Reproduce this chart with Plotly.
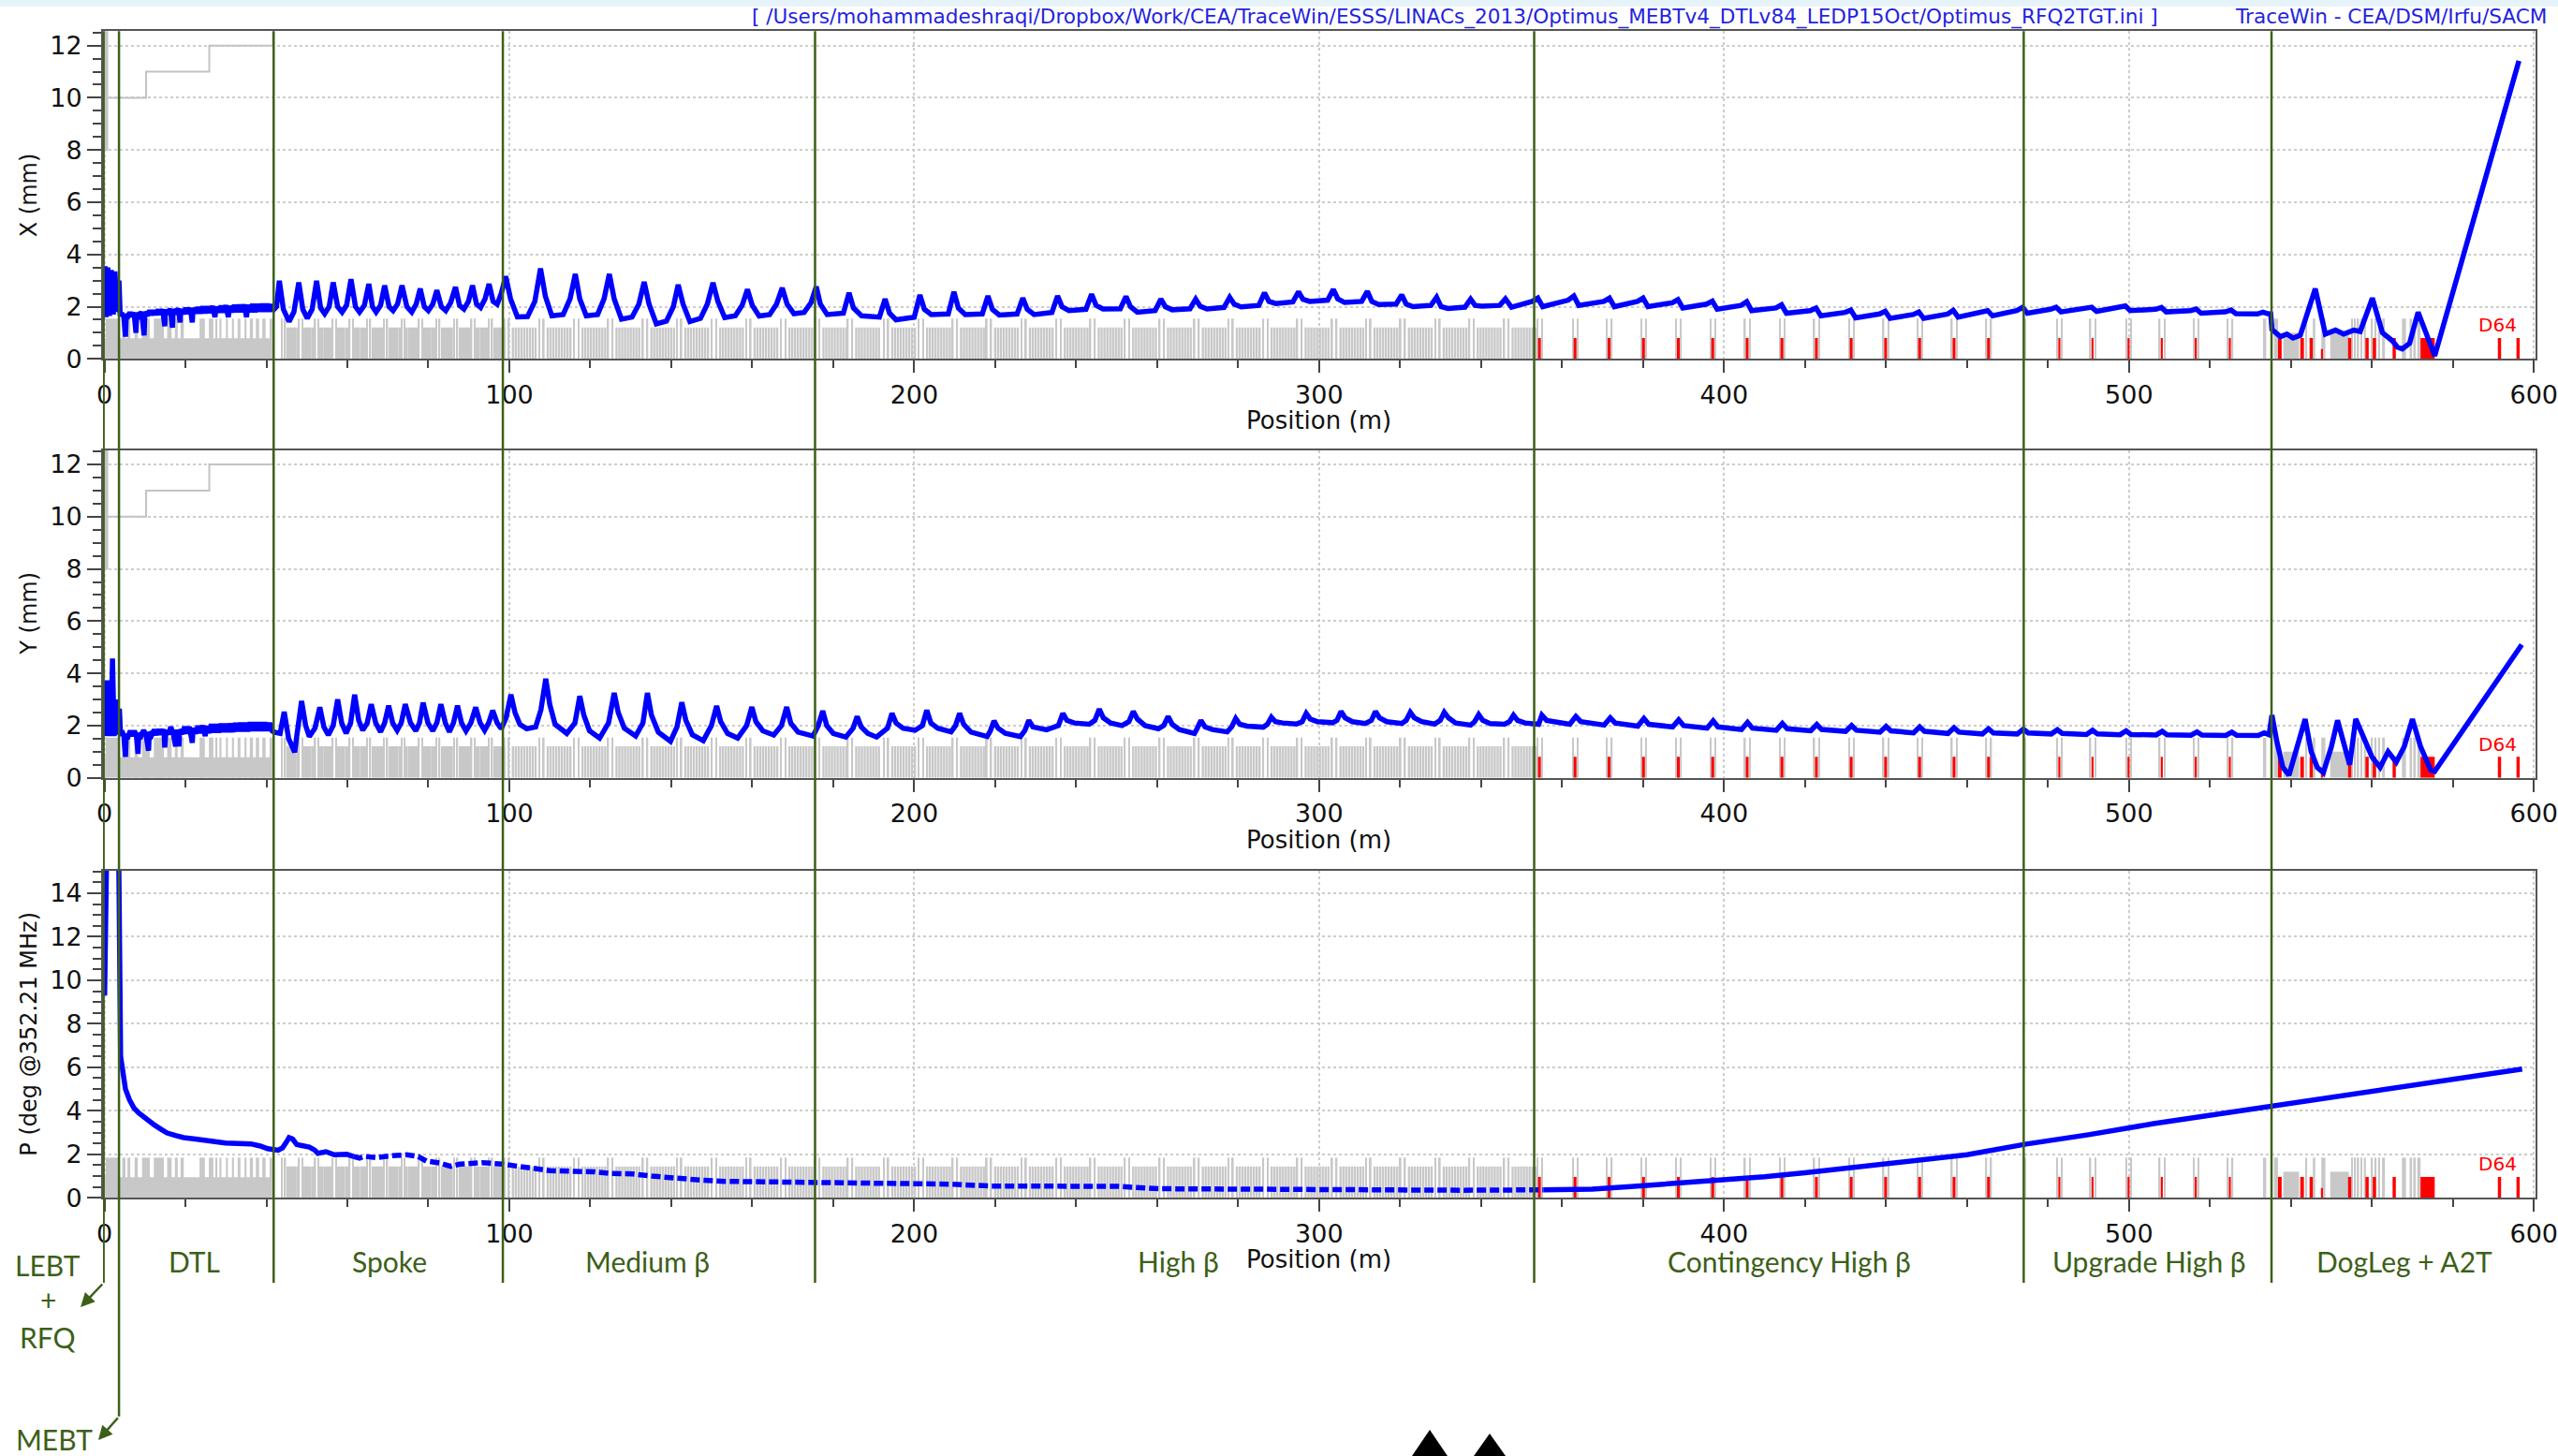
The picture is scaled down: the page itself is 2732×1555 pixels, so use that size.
import plotly.graph_objects as go

W, H = 2732, 1555

# ======================= DATA =======================
# Beam envelope X (mm) vs position (m)
X_ENV = [
 (0.0,1.6),(0.15,3.55),(0.45,1.6),(0.85,3.5),(1.25,1.65),(1.7,3.4),(2.2,1.7),(2.6,3.35),(3.1,1.8),(3.6,3.0),(3.9,1.65),
 (4.3,1.75),(4.8,1.6),(5.2,0.85),(5.4,1.7),(5.9,1.65),(6.3,1.78),(6.8,1.62),(7.3,1.78),(7.8,1.0),(8.0,1.75),(8.6,1.65),
 (9.2,1.8),(9.8,0.9),(10.0,1.8),(10.6,1.66),(11.2,1.85),(11.7,1.68),(12.2,1.85),(12.7,1.7),(13.3,1.88),(13.8,1.7),
 (14.4,1.9),(14.9,1.25),(15.1,1.88),(15.7,1.72),(16.3,1.92),(16.8,1.2),(17.0,1.9),(17.6,1.72),(18.2,1.93),(18.7,1.4),
 (18.9,1.9),(19.5,1.72),(20.1,1.95),(20.6,1.74),(21.2,1.95),(21.7,1.4),(21.9,1.95),(22.5,1.75),(23.1,1.97),(23.7,1.75),
 (24.3,2.0),(24.9,1.76),(25.5,2.0),(26.1,1.77),(26.7,2.02),(27.3,1.6),(27.6,2.0),(28.2,1.78),(28.8,2.03),(29.4,1.78),
 (30.0,2.05),(30.6,1.6),(30.9,2.03),(31.5,1.79),(32.1,2.06),(32.7,1.8),(33.3,2.07),(33.9,1.8),(34.5,2.08),(35.1,1.6),
 (35.4,2.07),(36.0,1.8),(36.6,2.1),(37.2,1.8),(37.8,2.1),(38.4,1.82),(39.0,2.1),(39.6,1.82),(40.2,2.1),(40.8,1.82),
 (41.4,2.08),(41.9,1.9),
 (42.5,2.0),(43.2,2.99),(44.2,1.9),(45.6,1.43),(46.8,1.8),(48.0,2.93),(49.0,1.9),(50.1,1.55),(51.3,1.9),(52.4,2.99),
 (53.4,1.95),(54.4,1.73),(55.5,2.0),(56.5,2.93),(57.6,2.0),(58.7,1.79),(59.8,2.05),(60.9,3.05),(62.0,2.0),(63.0,1.79),
 (64.2,2.05),(65.3,2.87),(66.2,2.0),(67.1,1.79),(68.2,2.05),(69.2,2.81),(70.3,2.0),(71.3,1.85),(72.4,2.1),(73.5,2.81),
 (74.7,2.0),(75.9,1.79),(77.0,2.1),(78.0,2.69),(79.0,2.0),(80.0,1.85),(81.1,2.1),(82.1,2.63),(83.2,2.0),(84.3,1.85),
 (85.5,2.15),(86.7,2.75),(87.7,2.05),(88.8,1.91),(89.9,2.2),(90.9,2.81),(91.9,2.1),(92.9,1.97),(94.0,2.3),(95.0,2.87),
 (96.0,2.2),(97.0,2.09),(98.0,2.5),(99.1,3.16),
 (100.3,2.3),(102.0,1.61),(104.5,1.62),(106.3,2.2),(107.7,3.46),(108.9,2.4),(110.5,1.65),(113.3,1.7),(115.0,2.3),
 (116.3,3.25),(117.4,2.3),(119.0,1.65),(121.8,1.7),(123.4,2.3),(124.7,3.25),(125.9,2.3),(127.7,1.52),(130.3,1.6),
 (132.0,2.1),(133.3,2.95),(134.5,2.1),(136.3,1.34),(138.8,1.45),(140.5,2.0),(141.7,2.84),(142.9,2.1),(144.6,1.43),
 (147.2,1.55),(148.9,2.1),(150.3,2.92),(151.5,2.2),(153.2,1.58),(155.8,1.65),(157.5,2.05),(158.8,2.66),(160.0,2.05),
 (161.7,1.64),(164.3,1.7),(166.0,2.1),(167.4,2.72),(168.6,2.1),(170.3,1.73),(172.8,1.78),(174.5,2.15),(175.8,2.77),
 (176.8,2.1),(178.5,1.70),(182.5,1.75),(183.9,2.53),(185.0,1.95),(187.0,1.65),(191.4,1.6),(192.8,2.29),(193.9,1.75),
 (195.5,1.50),(200.0,1.6),(201.4,2.45),(202.5,1.9),(204.2,1.70),(208.4,1.72),(209.8,2.57),(210.9,1.95),(212.6,1.70),
 (216.8,1.72),(218.2,2.41),(219.3,1.9),(221.0,1.68),(225.4,1.72),(226.8,2.33),(227.9,1.9),(229.6,1.70),(234.0,1.78),
 (235.4,2.41),(236.5,2.0),(238.2,1.85),(242.4,1.9),(243.8,2.48),(244.9,2.05),(246.6,1.91),(250.9,1.92),(252.3,2.39),
 (253.4,2.0),(255.1,1.79),(259.5,1.85),(260.9,2.29),(262.0,2.0),(263.7,1.88),(268.1,1.92),(269.5,2.29),(270.6,2.02),
 (272.3,1.91),(276.5,1.97),(277.9,2.36),(279.0,2.1),(280.7,1.99),(285.1,2.05),(286.5,2.53),(287.6,2.2),(289.3,2.12),
 (293.5,2.18),(294.9,2.57),(296.0,2.28),(297.7,2.2),(302.1,2.25),(303.5,2.66),(304.6,2.3),(306.3,2.16),(310.5,2.2),
 (311.9,2.59),(313.0,2.2),(314.7,2.08),(319.0,2.1),(320.4,2.45),(321.5,2.1),(323.2,2.0),(327.6,2.05),(329.0,2.36),
 (330.1,2.0),(331.8,1.93),(336.0,1.98),(337.4,2.29),(338.5,2.05),(340.2,2.02),(344.6,2.05),(346.0,2.3),(347.5,1.98),
 (352.6,2.2),(354.0,2.33),(355.2,2.0),(361.5,2.25),(362.9,2.41),(364.1,2.05),(370.3,2.2),(371.7,2.33),(372.9,2.0),
 (378.6,2.2),(380.0,2.33),(381.2,2.0),(387.2,2.15),(388.6,2.27),(389.8,1.95),(395.7,2.1),(397.1,2.21),(398.3,1.9),
 (404.2,2.05),(405.6,2.19),(406.8,1.85),(412.8,1.95),(414.2,2.07),(415.4,1.75),(421.3,1.85),(422.7,1.95),(423.9,1.65),
 (429.9,1.78),(431.3,1.87),(432.5,1.57),(438.4,1.72),(439.8,1.82),(441.0,1.55),(446.7,1.7),(448.1,1.8),(449.3,1.55),
 (455.2,1.72),(456.6,1.86),(457.8,1.6),(463.7,1.78),(465.1,1.85),(466.3,1.65),(472.3,1.85),(473.7,1.97),(474.9,1.75),
 (480.6,1.9),(482.0,1.98),(483.2,1.8),(489.4,1.92),(490.8,1.98),(492.0,1.82),(497.7,1.95),(499.1,2.03),(500.3,1.85),
 (506.6,1.9),(508.0,1.97),(509.2,1.8),(515.2,1.85),(516.6,1.91),(517.8,1.75),(523.8,1.8),(525.2,1.87),(526.4,1.73),
 (531.7,1.72),(533.1,1.79),(534.3,1.73),(535.0,1.72),
 (535.3,1.13),(537.4,0.85),(539.0,0.95),(540.5,0.8),(542.3,0.9),(543.5,1.5),(546.0,2.69),(548.5,0.95),(551.0,1.1),
 (553.0,0.95),(555.5,1.1),(557.1,1.05),(560.1,2.33),(562.6,1.0),(565.0,0.7),(566.3,0.45),(567.5,0.38),(569.3,0.6),
 (571.4,1.79),(575.5,0.12),(596.3,11.41),
]

# Beam envelope Y (mm) vs position (m)
Y_ENV = [
 (0.0,1.6),(0.3,3.73),(0.7,1.6),(1.2,3.73),(1.6,1.6),(2.0,4.57),(2.4,1.6),(2.9,3.0),(3.3,1.65),(3.7,2.65),(4.0,1.6),
 (4.3,1.8),(4.8,1.6),(5.2,0.8),(5.4,1.65),(5.9,1.6),(6.4,1.8),(6.9,1.6),(7.4,1.8),(7.9,1.62),(8.3,0.92),(8.5,1.7),
 (9.1,1.62),(9.7,1.82),(10.3,1.63),(10.9,1.04),(11.1,1.75),(11.7,1.64),(12.3,1.84),(12.9,1.65),(13.5,1.85),(14.1,1.66),
 (14.7,1.86),(14.9,1.16),(15.2,1.8),(15.8,1.67),(16.4,1.95),(17.0,1.68),(17.6,1.2),(17.8,1.85),(18.4,1.2),(18.6,1.85),
 (19.2,1.68),(19.8,1.95),(20.4,1.7),(21.0,1.95),(21.7,1.34),(21.9,1.9),(22.5,1.7),(23.1,1.98),(23.7,1.72),(24.3,2.0),
 (24.9,1.6),(25.2,1.98),(25.8,1.72),(26.4,2.05),(27.0,1.74),(27.6,2.05),(28.2,1.74),(28.8,2.07),(29.4,1.76),(30.0,2.07),
 (30.6,1.76),(31.2,2.08),(31.8,1.76),(32.4,2.1),(33.0,1.78),(33.6,2.1),(34.2,1.78),(34.8,2.1),(35.4,1.78),(36.0,2.12),
 (36.6,1.8),(37.2,2.12),(37.8,1.8),(38.4,2.12),(39.0,1.8),(39.6,2.12),(40.2,1.8),(40.8,2.1),(41.4,1.8),(41.9,1.75),
 (43.4,1.7),(44.4,2.53),(45.5,1.5),(47.0,0.98),(47.5,1.6),(48.7,2.94),(49.7,2.0),(50.6,1.58),(52.0,1.9),(53.2,2.70),
 (54.2,1.95),(55.3,1.64),(56.5,2.0),(57.6,3.0),(58.6,2.1),(59.7,1.70),(60.8,2.1),(61.8,3.18),(62.8,2.2),(63.8,1.82),
 (64.9,2.1),(65.9,2.82),(67.0,2.1),(68.2,1.76),(69.2,2.1),(70.2,2.76),(71.2,2.1),(72.3,1.82),(73.3,2.1),(74.3,2.82),
 (75.6,2.1),(76.9,1.80),(77.8,2.1),(78.7,2.88),(79.9,2.1),(81.1,1.80),(82.1,2.1),(83.1,2.82),(84.2,2.1),(85.2,1.76),
 (86.2,2.1),(87.2,2.76),(88.2,2.1),(89.3,1.80),(90.5,2.1),(91.7,2.70),(92.8,2.1),(93.9,1.82),(94.9,2.1),(95.9,2.58),
 (97.0,2.1),(98.0,1.88),(99.2,2.3),(100.4,3.19),
 (101.4,2.5),(102.6,2.05),(104.3,1.88),(106.5,1.95),(107.8,2.6),(109.0,3.79),(110.0,2.8),(111.3,2.05),(114.2,1.70),
 (116.2,2.1),(117.4,3.13),(118.4,2.4),(119.8,1.8),(122.3,1.52),(124.5,2.1),(125.9,3.25),(126.9,2.5),(128.4,1.9),
 (131.2,1.60),(133.0,2.1),(134.1,3.25),(135.1,2.4),(136.8,1.75),(139.8,1.40),(141.4,1.95),(142.6,2.89),(143.6,2.2),
 (145.2,1.65),(147.9,1.42),(149.9,2.0),(151.2,2.75),(152.2,2.15),(153.9,1.7),(156.4,1.52),(158.6,2.0),(159.9,2.71),
 (160.9,2.15),(162.6,1.8),(165.3,1.64),(167.2,2.0),(168.5,2.71),(169.5,2.1),(171.3,1.75),(175.0,1.60),(176.3,2.0),
 (177.4,2.56),(178.4,2.0),(180.0,1.7),(183.1,1.56),(184.9,1.9),(185.9,2.35),(186.9,1.95),(188.5,1.7),(190.7,1.56),
 (193.4,1.9),(194.5,2.47),(195.5,2.1),(197.2,1.9),(200.2,1.82),(202.0,2.0),(203.1,2.59),(204.1,2.1),(205.8,1.9),
 (209.1,1.76),(210.2,2.0),(211.2,2.47),(212.2,2.05),(214.0,1.75),(218.0,1.58),(218.8,1.8),(219.7,2.18),(220.7,1.9),
 (222.5,1.7),(226.2,1.58),(227.3,1.8),(228.3,2.20),(229.3,1.95),(231.0,1.88),(232.7,1.84),(235.6,2.0),(236.7,2.47),
 (237.7,2.2),(239.5,2.1),(243.2,2.05),(244.6,2.2),(245.7,2.63),(246.7,2.3),(248.5,2.1),(251.3,2.0),(253.0,2.15),
 (254.1,2.54),(255.1,2.25),(257.0,2.0),(260.3,1.88),(261.6,2.0),(262.7,2.35),(263.7,2.05),(265.5,1.85),(269.2,1.70),
 (269.9,1.9),(270.8,2.20),(271.8,1.95),(273.6,1.85),(277.3,1.76),(278.4,1.95),(279.4,2.27),(280.4,2.05),(282.2,1.98),
 (286.2,1.94),(287.2,2.05),(288.2,2.32),(289.2,2.15),(291.0,2.1),(294.4,2.06),(295.8,2.15),(296.8,2.47),(297.8,2.25),
 (299.6,2.15),(303.3,2.11),(304.4,2.2),(305.4,2.54),(306.4,2.3),(308.2,2.15),(311.4,2.08),(312.9,2.2),(313.9,2.54),
 (314.9,2.3),(316.7,2.15),(320.4,2.08),(321.5,2.2),(322.5,2.51),(323.5,2.3),(325.3,2.15),(328.5,2.06),(329.9,2.2),
 (330.9,2.51),(331.9,2.3),(333.7,2.1),(337.4,2.02),(338.4,2.15),(339.4,2.42),(340.4,2.2),(342.2,2.08),(345.8,2.05),
 (347.0,2.15),(348.0,2.4),(349.0,2.2),(350.8,2.1),(354.2,2.05),
 (355.0,2.4),(356.2,2.2),(361.9,2.05),(363.4,2.35),(364.6,2.15),(370.4,2.02),(371.9,2.3),(373.1,2.1),(378.7,1.98),
 (380.2,2.27),(381.4,2.05),(387.3,1.95),(388.8,2.22),(390.0,2.0),(395.8,1.9),(397.3,2.18),(398.5,1.95),(404.3,1.85),
 (405.8,2.12),(407.0,1.9),(412.9,1.82),(414.4,2.08),(415.6,1.88),(421.4,1.8),(422.9,2.04),(424.1,1.85),(430.0,1.78),
 (431.5,2.0),(432.7,1.82),(438.5,1.75),(440.0,1.97),(441.2,1.8),(446.8,1.72),(448.3,1.95),(449.5,1.78),(455.3,1.7),
 (456.8,1.92),(458.0,1.75),(463.8,1.68),(465.3,1.88),(466.5,1.72),(472.4,1.68),(473.9,1.86),(475.1,1.72),(480.8,1.68),
 (482.3,1.84),(483.5,1.7),(489.5,1.66),(491.0,1.82),(492.2,1.68),(497.8,1.65),(499.3,1.8),(500.5,1.66),(506.7,1.64),
 (508.2,1.78),(509.4,1.65),(515.3,1.63),(516.8,1.76),(518.0,1.64),(523.9,1.62),(525.4,1.75),(526.6,1.63),(531.9,1.62),
 (533.4,1.72),(534.6,1.65),(535.3,2.4),
 (536.5,1.4),(538.0,0.4),(539.5,0.1),(541.5,1.2),(543.5,2.25),(545.0,1.0),(546.5,0.4),(548.0,0.2),(550.0,1.2),
 (551.5,2.2),(553.0,1.3),(554.5,0.5),(556.0,2.25),(558.0,1.5),(560.0,0.8),(562.0,0.4),(564.0,1.0),(566.0,0.6),
 (568.0,1.2),(570.0,2.25),(572.0,1.2),(574.5,0.3),(575.5,0.25),(597.0,5.1),
]

# Phase spread P (deg @352.21 MHz) vs position (m)
P_ENV = [
 (0.05,9.3),(0.3,14.0),(0.6,16.5),(3.5,16.5),(3.75,12.2),(3.85,8.0),(4.0,6.5),(4.4,6.0),(5.2,5.0),(6.2,4.5),
 (7.3,4.13),(8.5,3.9),(9.8,3.70),(11.0,3.5),(12.4,3.34),(14.0,3.15),(15.5,2.98),(17.5,2.87),(19.6,2.77),(22.5,2.7),
 (25.8,2.62),(28.0,2.55),(29.9,2.52),(33.0,2.5),(36.2,2.48),(38.5,2.38),(40.3,2.26),(42.9,2.19),(44.0,2.3),(44.9,2.55),
 (45.6,2.77),(46.5,2.7),(47.5,2.45),(48.5,2.41),(50.6,2.33),(51.9,2.2),(52.7,2.05),(54.7,2.12),(56.8,1.98),(59.9,2.0),
 (61.5,1.9),(63.0,1.83),(64.2,1.91),(67.1,1.85),(70.0,1.92),(72.5,1.95),(74.6,1.98),(77.5,1.9),(79.5,1.69),(82.9,1.6),
 (85.5,1.45),(87.8,1.55),(91.9,1.57),(93.2,1.62),(98.4,1.55),(102.0,1.45),(105.6,1.33),(110.0,1.25),(115.9,1.22),
 (120.8,1.2),(125.0,1.12),(130.4,1.1),(135.2,1.0),(140.7,0.9),(147.0,0.82),(153.1,0.76),(160.0,0.74),(167.5,0.73),
 (175.8,0.73),(182.0,0.68),(188.2,0.64),(200.0,0.63),(208.8,0.63),(219.1,0.54),(235.0,0.54),(250.1,0.53),(260.4,0.42),
 (285.0,0.40),(312.0,0.37),(314.1,0.34),(335.0,0.35),(355.4,0.37),(367.4,0.40),(377.0,0.52),(385.0,0.62),(400.0,0.82),
 (410.0,0.97),(420.0,1.15),(430.0,1.35),(440.0,1.55),(450.0,1.77),(460.0,1.98),(474.6,2.47),(490.0,2.9),(506.1,3.41),
 (520.0,3.8),(535.3,4.2),(550.0,4.6),(565.0,5.05),(580.0,5.45),(597.1,5.92),
]

# Aperture step (mm), drawn light grey in the X and Y panels
APERTURE = [(0.3,13.0),(0.3,8.0),(0.7,8.0),(0.7,13.0),(None,None),(0.7,10.0),(10.3,10.0),(10.3,11.0),
            (25.9,11.0),(25.9,12.0),(41.6,12.0),(41.6,13.0)]

# Section boundaries (m) and labels
SECTION_BOUNDS = [-0.2, 3.6, 41.8, 98.4, 175.5, 353.1, 474.0, 535.2]
SECTION_NAMES = ["DTL", "Spoke", "Medium β", "High β", "Contingency High β", "Upgrade High β", "DogLeg + A2T"]
SECTION_LABEL_AT = [22.2, 70.4, 134.2, 265.2, 416.1, 505.1, 568.0]

# ---- lattice elements: (start m, length m, kind) ----
MEBT_ELEMS = [(0.0, 0.3, "dtl"), (0.3, 3.3, "quad")]
DTL_BLOCK = [(3.6, 38.2, "dtl")]
DTL_QUADS = [(4.4,0.8),(5.7,0.7),(7.45,0.8),(9.3,1.9),(12.2,2.5),(15.5,1.1),(17.4,0.7),(18.8,0.8),(23.5,1.3),
             (25.8,1.1),(27.4,0.5),(28.4,0.5),(30.0,0.5),(31.5,0.5),(32.9,0.7),(34.6,0.5),(35.9,0.8),(37.4,0.8),
             (39.0,0.8),(40.8,0.7)]
SPOKE_CELLS = [44.0, 48.2, 52.2, 56.5, 60.7, 65.0, 69.2, 73.5, 77.8, 82.1, 86.5, 90.8, 95.1]
SPOKE_CELL_LAYOUT = [(-0.3,0.35,"quad"),(0.5,0.35,"quad"),(1.05,0.42,"cav"),(1.55,0.42,"cav"),(2.05,0.42,"cav"),
                     (2.55,0.42,"cav"),(3.05,0.42,"cav"),(3.55,0.42,"cav")]
ELLIPTIC_CELLS = [99.1,107.7,116.3,124.7,133.3,141.7,150.3,158.8,167.4,
                  175.8,183.9,192.8,201.4,209.8,218.2,226.8,235.4,243.8,252.3,260.9,269.5,277.9,286.5,294.9,
                  303.5,311.9,320.4,329.0,337.4,346.0]
ELLIPTIC_CELL_LAYOUT = [(-0.5,0.4,"quad"),(0.6,0.4,"quad"),(1.5,0.55,"cav"),(2.2,0.55,"cav"),(2.9,0.55,"cav"),
                        (3.6,0.55,"cav"),(4.3,0.55,"cav"),(5.0,0.55,"cav"),(5.7,0.55,"cav"),(6.4,0.55,"cav"),
                        (7.1,0.55,"cav")]
CONTINGENCY_CELLS = [354.4,363.2,371.6,380.1,388.7,397.2,405.7,414.3,422.8,431.4,439.9,448.3,456.8,465.3]
CONTINGENCY_CELL_LAYOUT = [(-0.7,0.35,"quad"),(0.5,0.35,"quad"),(-0.35,0.7,"red")]
UPGRADE_CELLS = [482.8,491.0,499.9,508.1,516.5,524.9]
UPGRADE_CELL_LAYOUT = [(-0.7,0.35,"quad"),(0.5,0.35,"quad"),(-0.25,0.5,"red")]
UPGRADE_EDGE_QUADS = [(474.1,0.5,"quad"),(533.1,0.8,"quad")]
DOGLEG_ELEMS = [(535.8,1.0,"quad"),(538.1,3.9,"dip"),(543.5,0.5,"quad"),(545.4,0.6,"quad"),(547.5,1.0,"quad"),
                (549.7,4.6,"dip"),(554.9,0.4,"quad"),(555.6,0.4,"quad"),(556.4,0.4,"quad"),(557.2,0.4,"quad"),
                (558.0,0.5,"quad"),(559.7,0.5,"quad"),(560.6,0.5,"quad"),(561.5,0.5,"quad"),(562.5,0.7,"quad"),
                (567.4,1.0,"quad"),(569.3,0.6,"quad"),(570.2,0.6,"quad"),(571.2,0.8,"quad"),
                (536.8,0.9,"red"),(542.3,0.9,"red"),(544.6,0.8,"red"),(547.4,0.5,"red_s"),(554.1,0.8,"red"),
                (558.4,0.8,"red"),(560.2,0.8,"red"),(565.1,0.8,"red"),(572.0,3.5,"red"),(591.1,0.8,"red"),
                (595.7,0.8,"red")]

# ======================= STYLE / GEOMETRY =======================
PANELS = [  # (top px, bottom px, y max, y title)
    (33.3, 383.3, 12.55, "X (mm)"),
    (480.7, 830.7, 12.55, "Y (mm)"),
    (930.0, 1279.3, 15.03, "P (deg @352.21 MHz)"),
]
X_LEFT_PX, X_RIGHT_PX = 110, 2708
X_RANGE = [-0.35, 600.4]
KIND_FRAC = {"quad": 0.123, "cav": 0.096, "dtl": 0.063, "dip": 0.08, "red": 0.064, "red_s": 0.03}
GREY = "rgb(200,200,200)"
RED = "rgb(255,0,0)"
BLUE = "rgb(0,0,255)"
GREEN = "#3c6018"
TICK_FONT = dict(family="DejaVu Sans", size=27, color="#111111")
LABEL_FONT = dict(family="DejaVu Sans", size=26, color="#111111")
SECTION_FONT = dict(family="Lato", size=30, color=GREEN)


def py(p):
    return 1 - p / H


def pxp(p):
    return p / W


# assemble lattice
elements = list(MEBT_ELEMS) + list(DTL_BLOCK) + [(s, l, "quad") for s, l in DTL_QUADS]
for q in SPOKE_CELLS:
    elements += [(q + o, l, k) for o, l, k in SPOKE_CELL_LAYOUT]
for q in ELLIPTIC_CELLS:
    elements += [(q + o, l, k) for o, l, k in ELLIPTIC_CELL_LAYOUT]
for q in CONTINGENCY_CELLS:
    elements += [(q + o, l, k) for o, l, k in CONTINGENCY_CELL_LAYOUT]
for q in UPGRADE_CELLS:
    elements += [(q + o, l, k) for o, l, k in UPGRADE_CELL_LAYOUT]
elements += UPGRADE_EDGE_QUADS + DOGLEG_ELEMS

fig = go.Figure()


def unzip(pairs):
    return [a for a, b in pairs], [b for a, b in pairs]


env_sets = [X_ENV, Y_ENV, P_ENV]
LINE_W = 5.5

for i, (top, bot, ymax, title) in enumerate(PANELS):
    xa = "x" if i == 0 else f"x{i+1}"
    ya = "y" if i == 0 else f"y{i+1}"
    grey = [e for e in elements if not e[2].startswith("red")]
    reds = [e for e in elements if e[2].startswith("red")]
    for group, col in ((grey, GREY), (reds, RED)):
        fig.add_trace(go.Bar(
            x=[s + l / 2 for s, l, k in group], width=[l for s, l, k in group],
            y=[KIND_FRAC[k] * ymax for s, l, k in group], base=0,
            marker=dict(color=col, line=dict(width=0)), xaxis=xa, yaxis=ya,
            showlegend=False, hoverinfo="skip"))
    if i < 2:
        ax_, ay_ = unzip(APERTURE)
        fig.add_trace(go.Scatter(x=ax_, y=ay_, mode="lines", line=dict(color="rgb(195,195,195)", width=2),
                                 xaxis=xa, yaxis=ya, showlegend=False, hoverinfo="skip", connectgaps=False))
    xs, ys = unzip(env_sets[i])
    if i < 2:
        fig.add_trace(go.Scatter(x=xs, y=ys, mode="lines", line=dict(color=BLUE, width=LINE_W),
                                 xaxis=xa, yaxis=ya, showlegend=False, hoverinfo="skip"))
    else:
        segs = [(lambda v: v <= 62, "solid"), (lambda v: 61 <= v <= 356, "10px,4px"), (lambda v: v >= 355, "solid")]
        for cond, dash in segs:
            idx = [j for j, v in enumerate(xs) if cond(v)]
            fig.add_trace(go.Scatter(x=[xs[j] for j in idx], y=[ys[j] for j in idx], mode="lines",
                                     line=dict(color=BLUE, width=LINE_W, dash=dash),
                                     xaxis=xa, yaxis=ya, showlegend=False, hoverinfo="skip"))

layout = dict(template="none", width=W, height=H, margin=dict(l=0, r=0, t=0, b=0, pad=0, autoexpand=False),
              paper_bgcolor="white", plot_bgcolor="white", barmode="overlay", showlegend=False)

annotations = []
shapes = []
for i, (top, bot, ymax, title) in enumerate(PANELS):
    xk = "xaxis" if i == 0 else f"xaxis{i+1}"
    yk = "yaxis" if i == 0 else f"yaxis{i+1}"
    ya = "y" if i == 0 else f"y{i+1}"
    xa = "x" if i == 0 else f"x{i+1}"
    layout[xk] = dict(domain=[pxp(X_LEFT_PX), pxp(X_RIGHT_PX)], range=X_RANGE, anchor=ya, automargin=False,
                      ticklabeloverflow="allow",
                      tickvals=[0, 100, 200, 300, 400, 500, 600], ticks="outside", ticklen=13, tickwidth=2,
                      tickcolor="#444", tickfont=TICK_FONT,
                      minor=dict(dtick=20, tick0=0, ticks="outside", ticklen=8, tickwidth=1.5, tickcolor="#444",
                                 showgrid=False),
                      showgrid=True, gridcolor="rgb(205,205,205)", griddash="dot", gridwidth=1.5,
                      showline=True, mirror=True, linecolor="#555", linewidth=2, zeroline=False)
    layout[yk] = dict(domain=[py(bot), py(top)], range=[0, ymax], anchor=xa, automargin=False,
                      ticklabeloverflow="allow",
                      tickvals=list(range(0, int(ymax) + 1, 2)), ticks="outside", ticklen=15, tickwidth=2,
                      tickcolor="#444", tickfont=TICK_FONT,
                      minor=dict(dtick=0.5, tick0=0, ticks="outside", ticklen=9, tickwidth=1.5, tickcolor="#444",
                                 showgrid=False),
                      showgrid=True, gridcolor="rgb(205,205,205)", griddash="dot", gridwidth=1.5,
                      showline=True, mirror=True, linecolor="#555", linewidth=2, zeroline=False)
    annotations.append(dict(text=title, x=pxp(31), y=py((top + bot) / 2), xref="paper", yref="paper",
                            textangle=-90, showarrow=False, xanchor="center", yanchor="middle",
                            font=dict(family="DejaVu Sans", size=24, color="#111111")))
    annotations.append(dict(text="Position (m)", x=300, y=py(bot + 66), xref="x", yref="paper",
                            showarrow=False, xanchor="center", yanchor="middle", font=LABEL_FONT))
    annotations.append(dict(text="D64", x=591.1, y=py(bot - 36), xref="x", yref="paper",
                            showarrow=False, xanchor="center", yanchor="middle",
                            font=dict(family="DejaVu Sans", size=20, color=RED)))

# section boundary lines
for j, b in enumerate(SECTION_BOUNDS):
    bottom = 1512.7 if j == 1 else 1370
    shapes.append(dict(type="line", xref="x", yref="paper", x0=b, x1=b, y0=py(33.3), y1=py(bottom),
                       line=dict(color=GREEN, width=2.5), layer="above"))

for name, at in zip(SECTION_NAMES, SECTION_LABEL_AT):
    annotations.append(dict(text=name, x=at, y=py(1347), xref="x", yref="paper", showarrow=False,
                            xanchor="center", yanchor="middle", font=SECTION_FONT))

for txt, xx, yy in (("LEBT", 51, 1351), ("+", 51, 1388), ("RFQ", 51, 1428), ("MEBT", 58, 1537)):
    annotations.append(dict(text=txt, x=pxp(xx), y=py(yy), xref="paper", yref="paper",
                            showarrow=False, xanchor="center", yanchor="middle", font=SECTION_FONT))

# arrows from the LEBT/MEBT boundary lines to their labels
for head, tail in (((86, 1396), (110.7, 1370)), ((105, 1538), (127.2, 1512.7))):
    annotations.append(dict(text="", x=pxp(head[0]), y=py(head[1]), xref="paper", yref="paper",
                            ax=tail[0] - head[0], ay=tail[1] - head[1], axref="pixel", ayref="pixel",
                            showarrow=True, arrowhead=2, arrowsize=1.2, arrowwidth=2.5, arrowcolor=GREEN,
                            standoff=0, startstandoff=0))

# header
HEADER_FONT = dict(family="DejaVu Sans", size=21.6, color="#2323e0")
annotations.append(dict(text="[ /Users/mohammadeshraqi/Dropbox/Work/CEA/TraceWin/ESSS/LINACs_2013/Optimus_MEBTv4_DTLv84_LEDP15Oct/Optimus_RFQ2TGT.ini ]",
                        x=pxp(801), y=py(18), xref="paper", yref="paper", showarrow=False,
                        xanchor="left", yanchor="middle", font=HEADER_FONT))
annotations.append(dict(text="TraceWin - CEA/DSM/Irfu/SACM", x=pxp(2722), y=py(18), xref="paper", yref="paper",
                        showarrow=False, xanchor="right", yanchor="middle", font=HEADER_FONT))

shapes.append(dict(type="rect", xref="paper", yref="paper", x0=0, x1=1, y0=py(7), y1=1,
                   fillcolor="#e6f3fa", line=dict(width=0), layer="below"))

# black triangles at the bottom edge
for cx, apex, half in ((1527, 1527, 19), (1591, 1531, 17)):
    path = f"M {pxp(cx - half)},{py(1555)} L {pxp(cx)},{py(apex)} L {pxp(cx + half)},{py(1555)} Z"
    shapes.append(dict(type="path", xref="paper", yref="paper", path=path, fillcolor="black",
                       line=dict(width=0)))

layout["annotations"] = annotations
layout["shapes"] = shapes
fig.update_layout(**layout)
fig.write_html("out.html")
